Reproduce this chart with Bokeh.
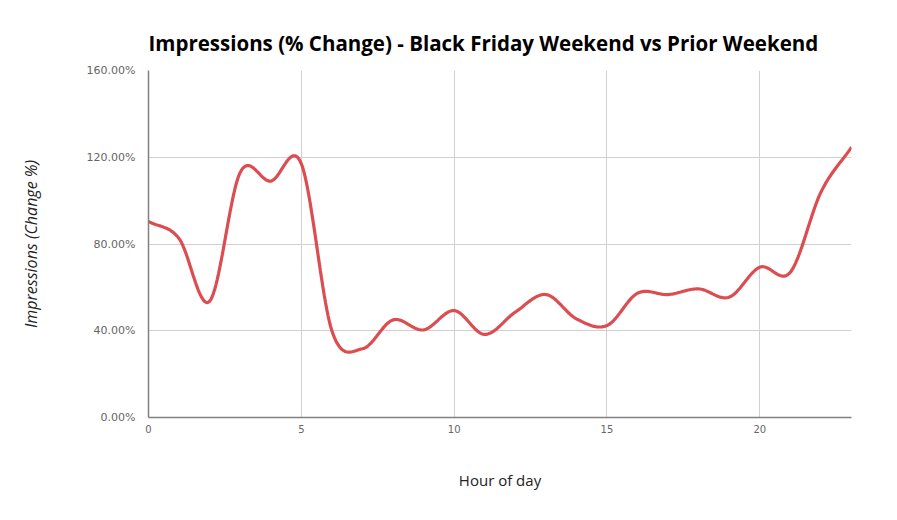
import numpy as np
from bokeh.plotting import figure
from bokeh.models import PrintfTickFormatter, FixedTicker, Range1d, ColumnDataSource
from bokeh.embed import file_html
from bokeh.resources import INLINE

hours = list(range(24))
impressions_pct = [90.4, 82.5, 53.6, 113.0, 109.0, 117.0, 40.0, 31.7, 45.0, 40.4,
                   49.3, 38.3, 48.6, 56.7, 45.5, 42.4, 57.3, 56.7, 59.3, 55.5,
                   69.3, 67.0, 103.9, 124.6]
x_ticks = [0, 5, 10, 15, 20]
y_ticks = [0, 40, 80, 120, 160]

title_text = "Impressions (% Change) - Black Friday Weekend vs Prior Weekend"
x_title = "Hour of day"
y_title = "Impressions (Change %)"


def catmull_rom(xs, ys, n=24):
    xs = np.asarray(xs, float)
    ys = np.asarray(ys, float)
    px = np.concatenate([[2 * xs[0] - xs[1]], xs, [2 * xs[-1] - xs[-2]]])
    py = np.concatenate([[2 * ys[0] - ys[1]], ys, [2 * ys[-1] - ys[-2]]])
    out_x, out_y = [], []
    for i in range(1, len(px) - 2):
        t = np.linspace(0, 1, n, endpoint=False)
        for arr, out in ((px, out_x), (py, out_y)):
            p0, p1, p2, p3 = arr[i - 1], arr[i], arr[i + 1], arr[i + 2]
            v = 0.5 * ((2 * p1) + (-p0 + p2) * t + (2 * p0 - 5 * p1 + 4 * p2 - p3) * t ** 2
                       + (-p0 + 3 * p1 - 3 * p2 + p3) * t ** 3)
            out.extend(v.tolist())
    out_x.append(float(xs[-1]))
    out_y.append(float(ys[-1]))
    return out_x, out_y


sx, sy = catmull_rom(hours, impressions_pct)
src = ColumnDataSource(data=dict(x=sx, y=sy))

p = figure(width=881, height=504, output_backend="svg", toolbar_location=None,
           x_range=Range1d(0, 23), y_range=Range1d(0, 160),
           min_border_left=148, min_border_right=30, min_border_top=70,
           min_border_bottom=87)

p.title.text = title_text
p.title.text_font = "Open Sans"
p.title.text_font_size = "20.5px"
p.title.text_font_style = "bold"
p.title.text_color = "#000000"
p.title.align = "left"
p.title.offset = 0
p.title.standoff = 27

p.line("x", "y", source=src, line_color="#db4d50", line_width=3.2)

p.outline_line_color = None
p.background_fill_color = "white"
p.border_fill_color = "white"

for ax in (p.xaxis[0], p.yaxis[0]):
    ax.axis_line_color = "#808080"
    ax.axis_line_width = 1.5
    ax.major_tick_out = 0
    ax.major_tick_in = 0
    ax.minor_tick_out = 0
    ax.minor_tick_in = 0
    ax.major_label_text_color = "#666666"
    ax.major_label_text_font = "DejaVu Sans"
    ax.axis_label_text_color = "#222222"
    ax.axis_label_text_font = "Open Sans"

p.xaxis.ticker = FixedTicker(ticks=x_ticks)
p.yaxis.ticker = FixedTicker(ticks=y_ticks)
p.yaxis.formatter = PrintfTickFormatter(format="%.2f%%")
p.xaxis.major_label_text_font_size = "10px"
p.yaxis.major_label_text_font_size = "11px"
p.xaxis.major_label_standoff = 7
p.yaxis.major_label_standoff = 13
p.xaxis.axis_label = x_title
p.yaxis.axis_label = y_title
p.yaxis.axis_label_text_font_size = "16px"
p.xaxis.axis_label_text_font_size = "15px"
p.yaxis.axis_label_text_font_style = "italic"
p.xaxis.axis_label_text_font_style = "normal"
p.xaxis.axis_label_standoff = 34
p.yaxis.axis_label_standoff = 42

p.xgrid.ticker = FixedTicker(ticks=x_ticks)
p.ygrid.ticker = FixedTicker(ticks=y_ticks)
p.xgrid.grid_line_color = "#d0d0d0"
p.ygrid.grid_line_color = "#d0d0d0"

open("out.html", "w").write(file_html(p, INLINE))
